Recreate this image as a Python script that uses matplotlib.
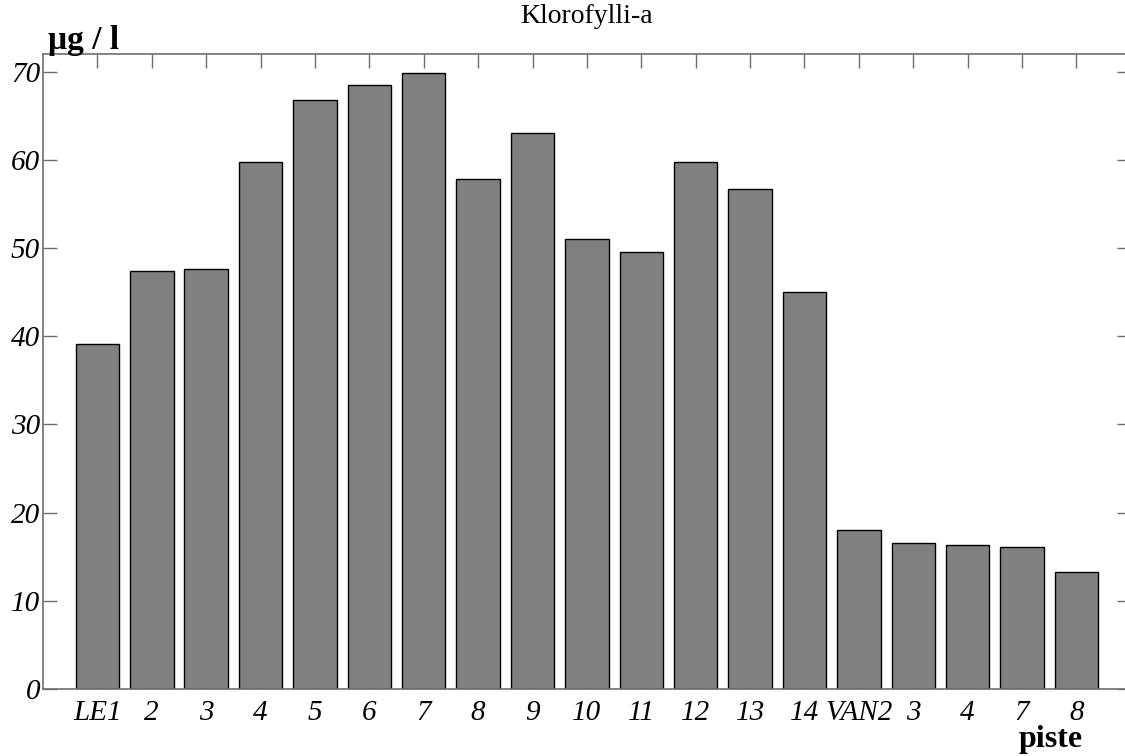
import matplotlib
matplotlib.use("Agg")
import matplotlib.pyplot as plt
import numpy as np

# Chlorophyll-a concentration per sampling station
stations = ["LE1", "2", "3", "4", "5", "6", "7", "8", "9", "10", "11", "12", "13", "14",
            "VAN2", "3", "4", "7", "8"]
chl_a = [39.1, 47.4, 47.6, 59.7, 66.8, 68.5, 69.9, 57.8, 63.0, 51.0, 49.6, 59.7, 56.7, 45.0,
         18.0, 16.5, 16.3, 16.1, 13.3]
yticks = [0, 10, 20, 30, 40, 50, 60, 70]

serif = ["Liberation Serif", "DejaVu Serif"]
spine_col = "#6e6e6e"

fig = plt.figure(figsize=(11.25, 7.56), dpi=100)
ax = fig.add_axes([0.0382, 0.0886, 0.967, 0.84])

x = np.arange(1, len(chl_a) + 1)
ax.bar(x, chl_a, width=0.8, color="#808080", edgecolor="black", linewidth=1.0, zorder=2)

ax.set_xlim(0, len(chl_a) + 1)
ax.set_ylim(0, 72)
ax.set_xticks(x)
ax.set_xticklabels(stations)
ax.set_yticks(yticks)

for lab in ax.get_xticklabels() + ax.get_yticklabels():
    lab.set_family(serif)
    lab.set_style("italic")
    lab.set_fontsize(21)

ax.tick_params(axis="both", direction="in", length=10, width=1.0, color=spine_col,
               top=True, right=True)
ax.tick_params(axis="x", pad=8)
ax.tick_params(axis="y", pad=2)
for s in ax.spines.values():
    s.set_color(spine_col)
    s.set_linewidth(1.2)

fig.text(0.5215, 0.978, "Klorofylli-a", family=serif, fontsize=20, ha="center", va="center")
fig.text(0.043, 0.947, "\u03bcg / l", family=serif, fontsize=24, fontweight="bold",
         ha="left", va="center")
fig.text(0.934, 0.022, "piste", family=serif, fontsize=23, fontweight="bold",
         ha="center", va="center")

fig.savefig("out.png", dpi=100)
